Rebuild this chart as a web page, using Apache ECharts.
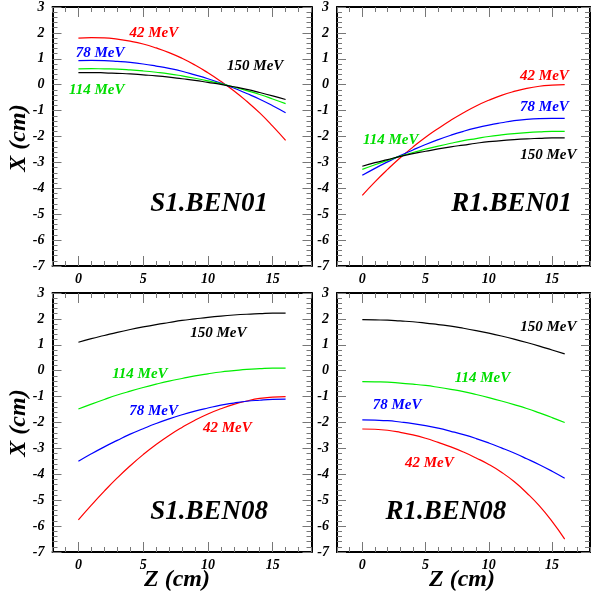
<!DOCTYPE html>
<html>
<head>
<meta charset="utf-8">
<script src="https://cdn.jsdelivr.net/npm/echarts@6/dist/echarts.min.js"></script>
<style>html,body{margin:0;padding:0;background:#fff;}#c{width:593px;height:594px;}</style>
</head>
<body>
<div id="c"></div>
<script>
// ---------- data ----------
const zValues = [0,1,2,3,4,5,6,7,8,9,10,11,12,13,14,15,16];
const energyNames = ['42 MeV','78 MeV','114 MeV','150 MeV'];
const panelNames = ['S1.BEN01','R1.BEN01','S1.BEN08','R1.BEN08'];
const xTickLabels = [0,5,10,15];

// S1.BEN01
const s1ben01_42  = [1.80,1.82,1.81,1.76,1.68,1.57,1.42,1.24,1.02,0.76,0.46,0.13,-0.23,-0.64,-1.09,-1.60,-2.15];
const s1ben01_78  = [0.93,0.94,0.93,0.90,0.86,0.80,0.72,0.63,0.52,0.38,0.23,0.06,-0.13,-0.34,-0.56,-0.81,-1.08];
const s1ben01_114 = [0.61,0.62,0.61,0.60,0.57,0.53,0.48,0.42,0.34,0.25,0.15,0.04,-0.09,-0.23,-0.38,-0.55,-0.73];
const s1ben01_150 = [0.47,0.47,0.46,0.44,0.42,0.38,0.34,0.29,0.23,0.17,0.09,0.01,-0.08,-0.18,-0.30,-0.43,-0.57];
// R1.BEN01
const r1ben01_42  = [-4.27,-3.75,-3.27,-2.82,-2.41,-2.03,-1.69,-1.37,-1.08,-0.82,-0.60,-0.41,-0.26,-0.14,-0.06,-0.02,0.00];
const r1ben01_78  = [-3.50,-3.23,-2.98,-2.74,-2.52,-2.31,-2.12,-1.95,-1.80,-1.67,-1.56,-1.47,-1.39,-1.34,-1.31,-1.30,-1.30];
const r1ben01_114 = [-3.27,-3.09,-2.92,-2.76,-2.62,-2.49,-2.37,-2.26,-2.16,-2.08,-2.00,-1.94,-1.89,-1.85,-1.82,-1.80,-1.80];
const r1ben01_150 = [-3.15,-3.01,-2.89,-2.77,-2.66,-2.57,-2.48,-2.40,-2.33,-2.26,-2.20,-2.16,-2.12,-2.09,-2.07,-2.05,-2.05];
// S1.BEN08
const s1ben08_42  = [-5.76,-5.19,-4.65,-4.14,-3.67,-3.24,-2.85,-2.50,-2.19,-1.91,-1.67,-1.47,-1.30,-1.17,-1.07,-1.02,-1.00];
const s1ben08_78  = [-3.50,-3.21,-2.94,-2.69,-2.45,-2.24,-2.04,-1.86,-1.70,-1.56,-1.44,-1.33,-1.25,-1.18,-1.14,-1.11,-1.10];
const s1ben08_114 = [-1.48,-1.29,-1.11,-0.94,-0.79,-0.65,-0.52,-0.40,-0.30,-0.20,-0.12,-0.05,0.00,0.05,0.08,0.10,0.10];
const s1ben08_150 = [1.10,1.24,1.36,1.48,1.59,1.69,1.78,1.86,1.94,2.00,2.06,2.11,2.15,2.18,2.20,2.22,2.22];
// R1.BEN08
const r1ben08_42  = [-2.25,-2.26,-2.30,-2.38,-2.48,-2.61,-2.77,-2.94,-3.14,-3.37,-3.62,-3.92,-4.28,-4.72,-5.22,-5.82,-6.50];
const r1ben08_78  = [-1.90,-1.91,-1.93,-1.98,-2.04,-2.12,-2.22,-2.34,-2.47,-2.62,-2.79,-2.98,-3.18,-3.40,-3.63,-3.88,-4.15];
const r1ben08_114 = [-0.42,-0.43,-0.44,-0.48,-0.52,-0.57,-0.64,-0.72,-0.81,-0.92,-1.04,-1.17,-1.31,-1.46,-1.63,-1.81,-2.00];
const r1ben08_150 = [1.97,1.96,1.95,1.92,1.89,1.84,1.78,1.72,1.64,1.55,1.45,1.34,1.22,1.09,0.95,0.80,0.65];

// annotation anchors (z, x) for the energy labels, order: 42, 78, 114, 150
const s1ben01_labelZ = [5.83, 1.67, 1.42, 13.65];
const s1ben01_labelX = [2.01, 1.21, -0.21, 0.71];
const r1ben01_labelZ = [14.4, 14.4, 2.25, 14.7];
const r1ben01_labelX = [0.32, -0.87, -2.13, -2.71];
const s1ben08_labelZ = [11.5, 5.8, 4.75, 10.8];
const s1ben08_labelX = [-2.22, -1.58, -0.13, 1.44];
const r1ben08_labelZ = [5.3, 2.75, 9.5, 14.7];
const r1ben08_labelX = [-3.55, -1.32, -0.30, 1.70];
// panel name anchors
const panelNameZ = [10.1, 11.8, 10.1, 6.6];
const panelNameX = [-4.62, -4.62, -5.45, -5.44];

// ---------- styles ----------
const lineColors = ['#ff0000', '#0000ff', '#00ee00', '#000000'];
const textColors = ['#ff0000', '#0000ff', '#00dd00', '#000000'];
const FONT = '"Liberation Serif", "DejaVu Serif", serif';

const panels = [
  {curves:[s1ben01_42,s1ben01_78,s1ben01_114,s1ben01_150], lz:s1ben01_labelZ, lx:s1ben01_labelX},
  {curves:[r1ben01_42,r1ben01_78,r1ben01_114,r1ben01_150], lz:r1ben01_labelZ, lx:r1ben01_labelX},
  {curves:[s1ben08_42,s1ben08_78,s1ben08_114,s1ben08_150], lz:s1ben08_labelZ, lx:s1ben08_labelX},
  {curves:[r1ben08_42,r1ben08_78,r1ben08_114,r1ben08_150], lz:r1ben08_labelZ, lx:r1ben08_labelX}
];

const grids = [
  {left: 52.5, top: 5, width: 259, height: 261},
  {left: 337, top: 5, width: 259, height: 261},
  {left: 52.5, top: 293, width: 259, height: 259},
  {left: 337, top: 293, width: 259, height: 259}
];

const frameLine = {show: true, onZero: false, lineStyle: {color: '#000', width: 2}};
const noLine = {show: false, onZero: false};
const tickStyle = {color: '#777', width: 1};
const labelFont = {fontFamily: FONT, fontStyle: 'italic', fontWeight: 'bold', fontSize: 14, color: '#000'};

const xAxes = [], yAxes = [], series = [];
grids.forEach((g, gi) => {
  const base = xAxes.length;
  // bottom: minor ticks + labels
  xAxes.push({gridIndex: gi, type: 'value', min: -2, max: 18, interval: 1, position: 'bottom',
    axisLine: frameLine, axisTick: {show: true, inside: true, length: 5, lineStyle: tickStyle},
    axisLabel: Object.assign({show: true, margin: 6,
      formatter: v => (xTickLabels.indexOf(v) >= 0 ? String(v) : '')}, labelFont),
    splitLine: {show: false}});
  // bottom: major ticks
  xAxes.push({gridIndex: gi, type: 'value', min: -2, max: 18, position: 'bottom',
    axisLine: noLine, axisTick: {show: true, inside: true, length: 10, lineStyle: tickStyle, customValues: xTickLabels},
    axisLabel: {show: false}, splitLine: {show: false}});
  // top: minor
  xAxes.push({gridIndex: gi, type: 'value', min: -2, max: 18, interval: 1, position: 'top',
    axisLine: frameLine, axisTick: {show: true, inside: true, length: 5, lineStyle: tickStyle},
    axisLabel: {show: false}, splitLine: {show: false}});
  // top: major
  xAxes.push({gridIndex: gi, type: 'value', min: -2, max: 18, position: 'top',
    axisLine: noLine, axisTick: {show: true, inside: true, length: 10, lineStyle: tickStyle, customValues: xTickLabels},
    axisLabel: {show: false}, splitLine: {show: false}});

  const ybase = yAxes.length;
  yAxes.push({gridIndex: gi, type: 'value', min: -7, max: 3, interval: 1, position: 'left',
    axisLine: frameLine, axisTick: {show: true, inside: true, length: 9, lineStyle: tickStyle},
    minorTick: {show: true, splitNumber: 5, length: 5, lineStyle: tickStyle},
    axisLabel: Object.assign({show: true, margin: 8, padding: [3, 0, 0, 0]}, labelFont),
    splitLine: {show: false}, minorSplitLine: {show: false}});
  yAxes.push({gridIndex: gi, type: 'value', min: -7, max: 3, interval: 1, position: 'right',
    axisLine: frameLine, axisTick: {show: true, inside: true, length: 9, lineStyle: tickStyle},
    minorTick: {show: true, splitNumber: 5, length: 5, lineStyle: tickStyle},
    axisLabel: {show: false}, splitLine: {show: false}, minorSplitLine: {show: false}});

  const p = panels[gi];
  p.curves.forEach((vals, ci) => {
    series.push({type: 'line', name: energyNames[ci], xAxisIndex: base, yAxisIndex: ybase,
      data: zValues.map((z, i) => [z, vals[i]]), smooth: true, showSymbol: false, symbol: 'none',
      lineStyle: {color: lineColors[ci], width: 1.2}, silent: true, z: 3});
  });
  series.push({type: 'scatter', xAxisIndex: base, yAxisIndex: ybase, symbolSize: 0, silent: true, z: 5,
    itemStyle: {opacity: 1},
    data: energyNames.map((n, ci) => ({value: [p.lz[ci], p.lx[ci]], name: n,
      label: {color: textColors[ci]}})),
    label: {show: true, position: 'inside', formatter: d => d.name, textBorderWidth: 0, textShadowBlur: 0,
      fontFamily: FONT, fontStyle: 'italic', fontWeight: 'bold', fontSize: 15}});
  series.push({type: 'scatter', xAxisIndex: base, yAxisIndex: ybase, symbolSize: 0, silent: true, z: 5,
    itemStyle: {opacity: 1},
    data: [{value: [panelNameZ[gi], panelNameX[gi]], name: panelNames[gi]}],
    label: {show: true, position: 'inside', formatter: d => d.name, color: '#000', textBorderWidth: 0, textShadowBlur: 0,
      fontFamily: FONT, fontStyle: 'italic', fontWeight: 'bold', fontSize: 27}});
});

const titleStyle = {fontFamily: FONT, fontStyle: 'italic', fontWeight: 'bold', fontSize: 24, fill: '#000',
  align: 'center', verticalAlign: 'middle', textAlign: 'center', textVerticalAlign: 'middle'};
const graphic = [
  {type: 'text', x: 19, y: 138, rotation: Math.PI / 2, style: Object.assign({text: 'X (cm)'}, titleStyle)},
  {type: 'text', x: 19, y: 423, rotation: Math.PI / 2, style: Object.assign({text: 'X (cm)'}, titleStyle)},
  {type: 'text', x: 177, y: 580, style: Object.assign({text: 'Z (cm)'}, titleStyle)},
  {type: 'text', x: 462, y: 580, style: Object.assign({text: 'Z (cm)'}, titleStyle)}
];

const chart = echarts.init(document.getElementById('c'), null, {renderer: 'canvas'});
chart.setOption({
  animation: false,
  backgroundColor: '#fff',
  grid: grids,
  xAxis: xAxes,
  yAxis: yAxes,
  series: series,
  graphic: graphic
});
</script>
</body>
</html>
